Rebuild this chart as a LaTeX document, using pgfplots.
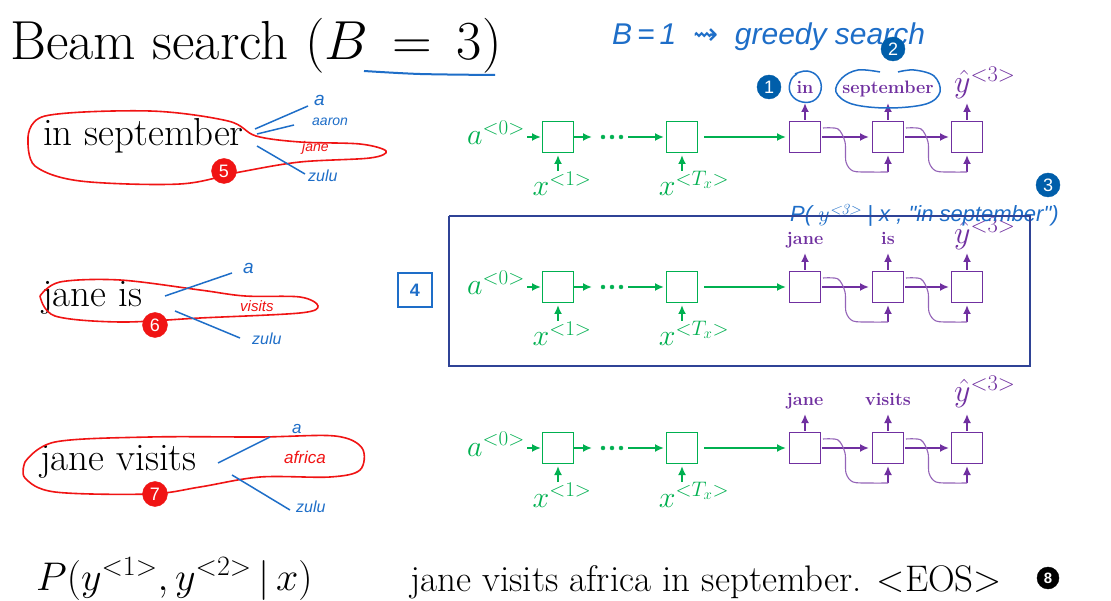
\RequirePackage{fix-cm}
\documentclass[border=0pt]{standalone}
\usepackage{fontspec}
\usepackage{amsmath}
\usepackage{pgfplots}
\pgfplotsset{compat=1.18}
\usetikzlibrary{arrows.meta}
\newfontfamily\hand{Liberation Sans}
\newfontfamily\sfb{Liberation Sans}
\newfontfamily\dejavu{DejaVu Sans}
\definecolor{grn}{RGB}{0,176,80}
\definecolor{pur}{RGB}{112,48,160}
\definecolor{hblue}{RGB}{30,110,200}
\definecolor{badge}{RGB}{0,94,170}
\definecolor{hred}{RGB}{240,20,20}
\definecolor{boxblue}{RGB}{47,67,150}
\newcommand{\tsup}[1]{\text{\rmfamily #1}}
\tikzset{glab/.style={inner sep=0, text=grn, font=\fontsize{30}{34}\selectfont},
         plab/.style={anchor=base, inner sep=0, text=pur, font=\bfseries\fontsize{18}{22}\selectfont},
         yhat/.style={anchor=base west, inner sep=0, text=pur, font=\fontsize{32}{36}\selectfont},
         hw/.style={anchor=base west, inner sep=0, font=\hand\itshape\fontsize{#1}{#1}\selectfont}}
\pgfplotsset{badges/.style={only marks, mark=*, mark size=#1,
  point meta=explicit symbolic, nodes near coords, nodes near coords align={center},
  every node near coord/.style={anchor=center, text=white, inner sep=0,
    font=\sfb\fontsize{18}{20}\selectfont}}}
\begin{document}
\begin{tikzpicture}
\begin{axis}[
  scale only axis, width=1111pt, height=601pt,
  xmin=0, xmax=1111, ymin=0, ymax=601, y dir=reverse,
  axis lines=none, ticks=none, clip=false,
  axis background/.style={fill=white},
]
% --- title
\node[anchor=base west, inner sep=0, font=\fontsize{55}{62}\selectfont] at (axis cs:10,60) {Beam search ($B\,=\,3$)};
\addplot[hblue, line width=2, smooth] coordinates {(364,71) (420,74) (495,75)};
\node[hw=30, text=hblue] at (axis cs:612,45) {B\,=\,1 \ {\dejavu\upshape ⇝} \ greedy search};

% --- encoder boxes (green)
\addplot[only marks, mark=square, mark size=15.5, grn, line width=1.8] coordinates {
(558,137) (682,137) (558,287) (682,287) (558,448) (682,448)};
\addplot[only marks, mark=*, mark size=2, grn] coordinates {
(603,137) (612,137) (621,137) (603,287) (612,287) (621,287) (603,448) (612,448) (621,448)};
\addplot[grn, line width=1.8, -{Latex[length=9pt,width=8pt]},
  quiver={u=\thisrow{u}, v=\thisrow{v}}] table {
x y u v
527 137 14 0
574 137 18 0
628 137 36 0
704 137 82 0
558 171 0 -16
682 171 0 -16
527 287 14 0
574 287 18 0
628 287 36 0
704 287 82 0
558 321 0 -16
682 321 0 -16
527 448 14 0
574 448 18 0
628 448 36 0
704 448 82 0
558 482 0 -16
682 482 0 -16
};

% --- decoder boxes (purple)
\addplot[only marks, mark=square, mark size=15.5, pur, line width=1.8] coordinates {
(805,137) (888,137) (967,137) (805,287) (888,287) (967,287) (805,448) (888,448) (967,448)};
\addplot[pur, line width=1.8, -{Latex[length=9pt,width=8pt]},
  quiver={u=\thisrow{u}, v=\thisrow{v}}] table {
x y u v
822 137 47 0
905 137 44 0
805 120 0 -17
888 120 0 -17
967 120 0 -17
888 172 0 -17
967 172 0 -17
822 287 47 0
905 287 44 0
805 270 0 -17
888 270 0 -17
967 270 0 -17
888 322 0 -17
967 322 0 -17
822 448 47 0
905 448 44 0
805 431 0 -17
888 431 0 -17
967 431 0 -17
888 483 0 -17
967 483 0 -17
};
\addplot[pur!75, line width=1.1, smooth, tension=0.5] coordinates {
(823,128) (838,129) (845,142) (846,162) (853,171) (870,172) (888,172)};
\addplot[pur!75, line width=1.1, smooth, tension=0.5] coordinates {
(906,128) (921,129) (928,142) (929,162) (936,171) (952,172) (967,172)};
\addplot[pur!75, line width=1.1, smooth, tension=0.5] coordinates {
(823,278) (838,279) (845,292) (846,312) (853,321) (870,322) (888,322)};
\addplot[pur!75, line width=1.1, smooth, tension=0.5] coordinates {
(906,278) (921,279) (928,292) (929,312) (936,321) (952,322) (967,322)};
\addplot[pur!75, line width=1.1, smooth, tension=0.5] coordinates {
(823,439) (838,440) (845,453) (846,473) (853,482) (870,483) (888,483)};
\addplot[pur!75, line width=1.1, smooth, tension=0.5] coordinates {
(906,439) (921,440) (928,453) (929,473) (936,482) (952,483) (967,483)};

% --- RNN labels
\node[glab, anchor=base east] at (axis cs:525,145) {$a^{\tsup{<0>}}$};
\node[glab, anchor=base east] at (axis cs:525,295) {$a^{\tsup{<0>}}$};
\node[glab, anchor=base east] at (axis cs:525,456) {$a^{\tsup{<0>}}$};
\node[glab, anchor=base] at (axis cs:562,196) {$x^{\tsup{<1>}}$};
\node[glab, anchor=base] at (axis cs:562,346) {$x^{\tsup{<1>}}$};
\node[glab, anchor=base] at (axis cs:562,507) {$x^{\tsup{<1>}}$};
\node[glab, anchor=base] at (axis cs:694,196) {$x^{\tsup{<}T_x\tsup{>}}$};
\node[glab, anchor=base] at (axis cs:694,346) {$x^{\tsup{<}T_x\tsup{>}}$};
\node[glab, anchor=base] at (axis cs:694,507) {$x^{\tsup{<}T_x\tsup{>}}$};
\node[yhat] at (axis cs:954,93) {$\hat{y}^{\tsup{<3>}}$};
\node[yhat] at (axis cs:954,244) {$\hat{y}^{\tsup{<3>}}$};
\node[yhat] at (axis cs:954,402) {$\hat{y}^{\tsup{<3>}}$};
\node[plab] at (axis cs:805,94) {in};
\node[plab] at (axis cs:888,94) {september};
\node[plab] at (axis cs:805,245) {jane};
\node[plab] at (axis cs:888,245) {is};
\node[plab] at (axis cs:805,406) {jane};
\node[plab] at (axis cs:888,406) {visits};

% --- blue handwriting around decoder words
\addplot[hblue, line width=1.5, smooth, tension=0.7] coordinates {
(795,74) (807,71) (818,77) (821,90) (813,101) (799,101) (790,92) (791,80) (797,74)};
\addplot[hblue, line width=1.5, smooth, tension=0.6] coordinates {
(880,72) (858,70) (842,78) (836,92) (852,104) (888,108) (926,104) (940,92) (934,76) (914,70) (898,72)};
\addplot[badge, badges=12] coordinates {(769,87) [1] (893,49) [2] (1048,185) [3]};
\node[hw=22, text=hblue] at (axis cs:790,222) {P( $y^{\tsup{<3>}}$ | x , "in september")};

% --- highlighted middle row
\addplot[boxblue, line width=2.2] coordinates {(449,216) (1030,216) (1030,366) (449,366) (449,216)};
\addplot[hblue, only marks, mark=square, mark size=17, line width=1.8,
  point meta=explicit symbolic, nodes near coords, nodes near coords align={center},
  every node near coord/.style={anchor=center, text=hblue, inner sep=0,
    font=\sfb\bfseries\fontsize{18}{20}\selectfont}] coordinates {(415,290) [4]};

% --- partial hypotheses on the left
\node[anchor=base west, inner sep=0, font=\fontsize{39}{42}\selectfont] at (axis cs:43,146) {in september};
\node[anchor=base west, inner sep=0, font=\fontsize{39}{42}\selectfont] at (axis cs:42,307) {jane is};
\node[anchor=base west, inner sep=0, font=\fontsize{39}{42}\selectfont] at (axis cs:40,470) {jane visits};

\addplot[hred, line width=1.6, smooth, tension=0.55] coordinates {
(28,140) (45,116) (150,111) (228,121) (256,136) (300,142) (360,144) (386,151) (370,158)
(300,162) (240,172) (180,184) (80,181) (35,166) (28,140)};
\addplot[hred, line width=1.6, smooth, tension=0.55] coordinates {
(40,296) (60,282) (120,280) (200,290) (245,296) (300,297) (318,306) (300,313)
(200,318) (120,322) (55,316) (40,296)};
\addplot[hred, line width=1.6, smooth, tension=0.55] coordinates {
(25,462) (55,442) (150,437) (260,437) (335,436) (362,448) (360,470) (330,477)
(260,477) (200,487) (150,494) (55,492) (25,478) (25,462)};

\addplot[hred, badges=12.5] coordinates {(224,171) [5] (155,325) [6] (155,494) [7]};

\addplot[hblue, line width=1.5] coordinates {(255,129) (308,106)};
\addplot[hblue, line width=1.5] coordinates {(257,134) (294,125)};
\addplot[hblue, line width=1.5] coordinates {(257,146) (305,174)};
\addplot[hblue, line width=1.5] coordinates {(165,296) (232,273)};
\addplot[hblue, line width=1.5] coordinates {(175,311) (240,338)};
\addplot[hblue, line width=1.5] coordinates {(218,463) (270,437)};
\addplot[hblue, line width=1.5] coordinates {(232,475) (290,510)};

\node[hw=19, text=hblue] at (axis cs:314,106) {a};
\node[hw=14, text=hblue] at (axis cs:312,126) {aaron};
\node[hw=14, text=hred] at (axis cs:302,152) {jane};
\node[hw=16, text=hblue] at (axis cs:308,182) {zulu};
\node[hw=19, text=hblue] at (axis cs:243,274) {a};
\node[hw=15, text=hred] at (axis cs:240,312) {visits};
\node[hw=16, text=hblue] at (axis cs:252,345) {zulu};
\node[hw=17, text=hblue] at (axis cs:292,433) {a};
\node[hw=17, text=hred] at (axis cs:284,463) {africa};
\node[hw=16, text=hblue] at (axis cs:296,512) {zulu};

% --- bottom line
\node[anchor=base west, inner sep=0, font=\fontsize{40}{44}\selectfont] at (axis cs:36,590) {$P(y^{\tsup{<1>}}, y^{\tsup{<2>}}\,|\,x)$};
\node[anchor=base west, inner sep=0, font=\fontsize{37}{40}\selectfont] at (axis cs:410,591) {jane visits africa in september. <EOS>};
\addplot[black, badges=11, every node near coord/.append style={font=\sfb\bfseries\fontsize{15}{17}\selectfont}] coordinates {(1048,578) [8]};
\end{axis}
\end{tikzpicture}
\end{document}
